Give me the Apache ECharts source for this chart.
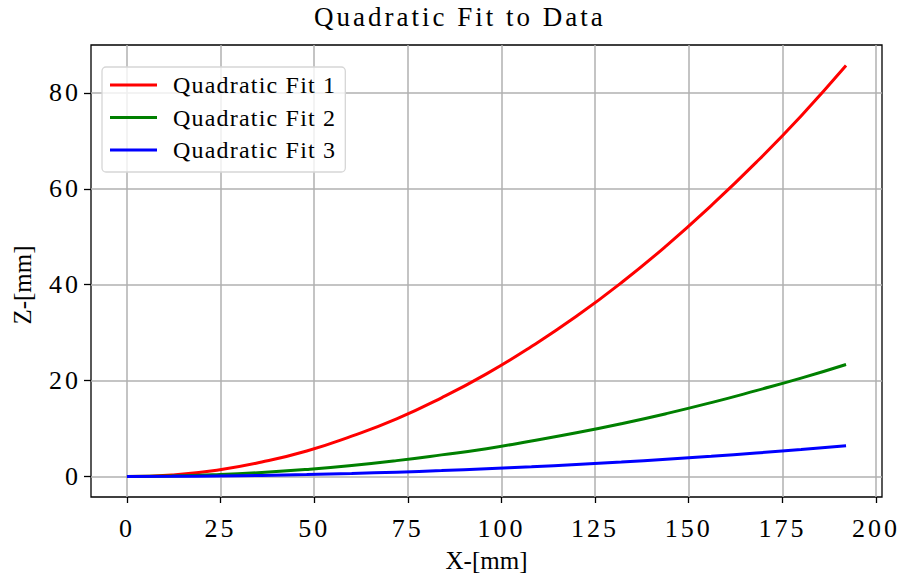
<!DOCTYPE html>
<html>
<head>
<meta charset="utf-8">
<script src="https://cdn.jsdelivr.net/npm/echarts@6/dist/echarts.min.js"></script>
<style>
    html, body { margin: 0; padding: 0; background: #fff; }
    #chart { width: 899px; height: 578px; }
    /* the reference text is set wide, so spread the letters a bit */
    #chart text[style*="27px"] { letter-spacing: 3px; }
    #chart text[style*="26px"] { letter-spacing: 3px; }
    #chart text[style*="24px"] { letter-spacing: 1.2px; }
</style>
</head>
<body>
<div id="chart"></div>
<script>
    // values
    var xValues = [0, 12, 24, 36, 48, 60, 72, 84, 96, 108, 120, 132, 144, 156, 168, 180, 192];
    var fit1 = [0, 0.33, 1.3, 3.0, 5.3, 8.4, 12.0, 16.4, 21.4, 27.1, 33.4, 40.4, 48.1, 56.5, 65.5, 75.2, 85.7];
    var fit2 = [0, 0.09, 0.37, 0.82, 1.46, 2.28, 3.3, 4.5, 5.8, 7.4, 9.1, 11.0, 13.1, 15.4, 17.9, 20.5, 23.35];
    var fit3 = [0, 0.025, 0.1, 0.22, 0.4, 0.62, 0.9, 1.22, 1.6, 2.02, 2.5, 3.0, 3.6, 4.2, 4.9, 5.6, 6.38];
    var seriesNames = ['Quadratic Fit 1', 'Quadratic Fit 2', 'Quadratic Fit 3'];
    var xTicks = [0, 25, 50, 75, 100, 125, 150, 175, 200];
    var yTicks = [0, 20, 40, 60, 80];

    var font = "'Liberation Serif', 'Times New Roman', serif";

    function pairs(ys) {
        var out = [];
        for (var i in xValues) {
            out.push([xValues[i], ys[i]]);
        }
        return out;
    }

    function line(name, color, ys) {
        return {
            name: name,
            type: 'line',
            symbol: 'none',
            smooth: true,
            color: color,
            lineStyle: { color: color, width: 3 },
            data: pairs(ys)
        };
    }

    var chart = echarts.init(document.getElementById('chart'), null, { renderer: 'svg' });

    var option = {
        animation: false,
        backgroundColor: '#fff',
        title: {
            text: 'Quadratic Fit to Data',
            left: 314,
            top: 3,
            padding: 0,
            textStyle: { fontFamily: font, fontSize: 27, fontWeight: 'normal', color: '#000' }
        },
        legend: {
            orient: 'vertical',
            left: 102,
            top: 67,
            padding: [6, 27, 10, 8],
            itemGap: 8.5,
            itemWidth: 47,
            itemHeight: 3,
            icon: 'rect',
            backgroundColor: 'rgba(255,255,255,0.8)',
            borderColor: '#d6d6d6',
            borderWidth: 1.3,
            borderRadius: 4,
            textStyle: { fontFamily: font, fontSize: 24, lineHeight: 24, color: '#000', padding: [0, 0, 0, 11] },
            data: seriesNames
        },
        grid: {
            left: 91,
            right: 17,
            top: 45,
            bottom: 80.5,
            show: true,
            borderColor: '#000',
            borderWidth: 1.3,
            backgroundColor: 'transparent'
        },
        xAxis: {
            type: 'value',
            min: -9.6,
            max: 201.6,
            name: 'X-[mm]',
            nameLocation: 'middle',
            nameGap: 51,
            nameTextStyle: { fontFamily: font, fontSize: 25, color: '#000' },
            axisLine: { show: false, onZero: false },
            axisTick: { show: true, length: 6, lineStyle: { color: '#000', width: 1.3 }, customValues: xTicks },
            axisLabel: { fontFamily: font, fontSize: 26, color: '#000', margin: 18, customValues: xTicks },
            splitLine: { show: true, lineStyle: { color: '#b0b0b0', width: 1.5 } }
        },
        yAxis: {
            type: 'value',
            min: -4.285,
            max: 89.99,
            name: 'Z-[mm]',
            nameLocation: 'middle',
            nameGap: 56,
            nameTextStyle: { fontFamily: font, fontSize: 25, color: '#000', padding: [0, 28, 0, 0] },
            axisLine: { show: false, onZero: false },
            axisTick: { show: true, length: 7, lineStyle: { color: '#000', width: 1.3 }, customValues: yTicks },
            axisLabel: { fontFamily: font, fontSize: 26, color: '#000', margin: 10, customValues: yTicks },
            splitLine: { show: true, lineStyle: { color: '#b0b0b0', width: 1.5 } }
        },
        series: [
            line(seriesNames[0], '#ff0000', fit1),
            line(seriesNames[1], '#008000', fit2),
            line(seriesNames[2], '#0000ff', fit3)
        ]
    };

    chart.setOption(option);
</script>
</body>
</html>
